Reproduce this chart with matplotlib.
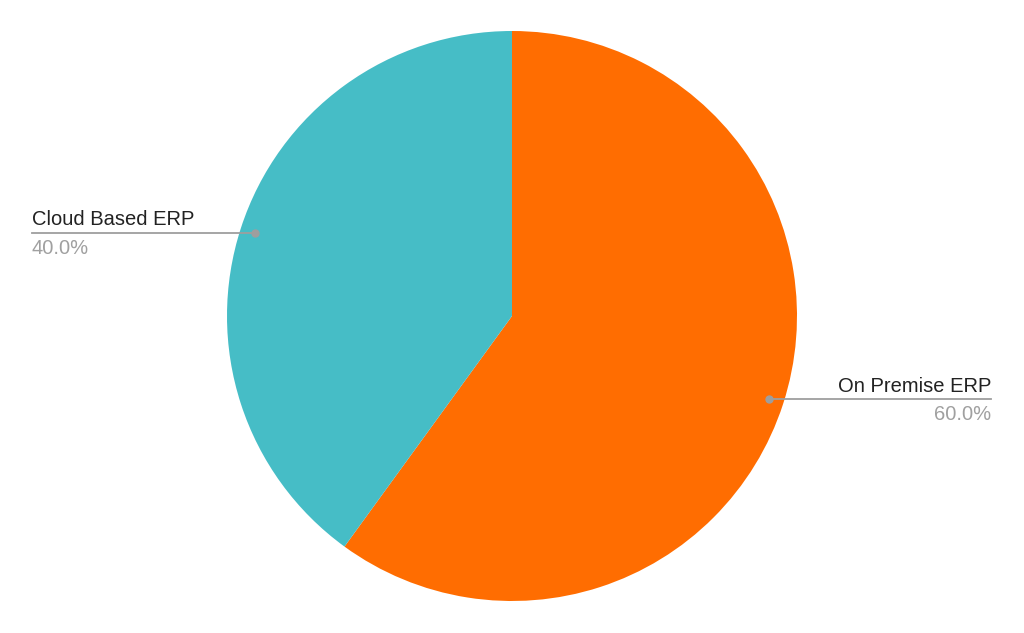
import numpy as np
import matplotlib
matplotlib.use("Agg")
import matplotlib.pyplot as plt

labels = ["On Premise ERP", "Cloud Based ERP"]
values = [60.0, 40.0]
colors = ["#FF6D01", "#46BDC6"]

W, H = 1024, 633
fig = plt.figure(figsize=(W / 100, H / 100), dpi=100)
ax = fig.add_axes([0, 0, 1, 1])
ax.set_xlim(0, W)
ax.set_ylim(0, H)
ax.set_aspect("equal")
ax.axis("off")

cx, cy, R = 512, H - 316, 285
wedges, _ = ax.pie(values, colors=colors, startangle=90, counterclock=False,
                   center=(cx, cy), radius=R, frame=True,
                   wedgeprops=dict(linewidth=0))
ax.set_xlim(0, W)
ax.set_ylim(0, H)
ax.axis("off")

total = sum(values)
for w, lab, v in zip(wedges, labels, values):
    mid = np.deg2rad((w.theta1 + w.theta2) / 2)
    px = cx + 0.947 * R * np.cos(mid)
    py = cy + 0.947 * R * np.sin(mid)
    if np.cos(mid) < 0:
        xend, ha = 32, "left"
    else:
        xend, ha = 991, "right"
    ax.plot([px, xend], [py, py], color="#9e9e9e", lw=1.3, zorder=3)
    ax.plot(px, py, "o", color="#9e9e9e", ms=5, zorder=4)
    ax.text(xend, py + 7.7, lab, ha=ha, va="baseline", fontsize=14.5,
            family="Liberation Sans", color="#222222")
    ax.text(xend, py - 21, f"{v / total * 100:.1f}%", ha=ha, va="baseline",
            fontsize=14.5, family="Liberation Sans", color="#a0a0a0")

fig.savefig("out.png", dpi=100, facecolor="white")
